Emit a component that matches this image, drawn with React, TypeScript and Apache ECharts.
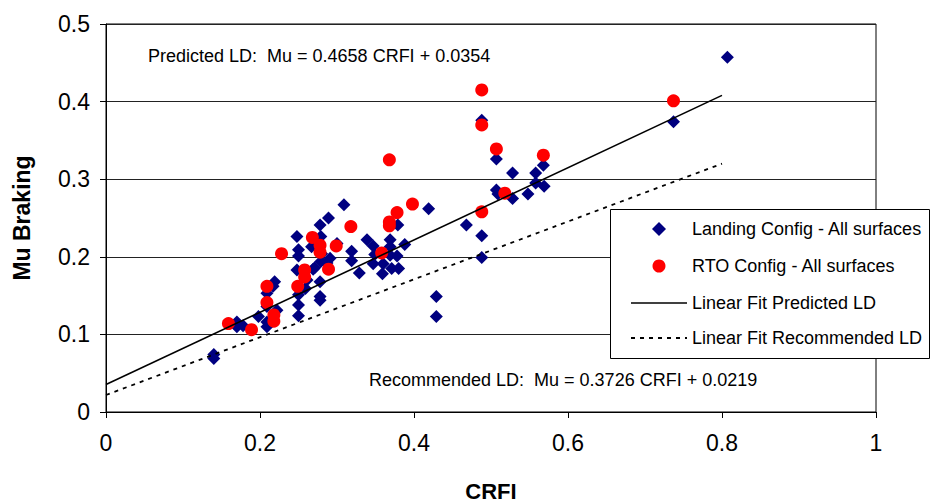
import React, { useEffect, useRef } from "react";
import * as echarts from "echarts";

// Landing Config - All surfaces (blue diamonds)
const landingCRFI = [
  0.14, 0.14, 0.17, 0.17, 0.178, 0.198, 0.209, 0.209,
  0.219, 0.217, 0.209, 0.209, 0.222,
  0.248, 0.25, 0.25, 0.248, 0.25, 0.25, 0.25,
  0.259, 0.261, 0.269,
  0.278, 0.289, 0.279, 0.267, 0.28, 0.279, 0.278, 0.278, 0.278,
  0.291, 0.3, 0.287, 0.271,
  0.309, 0.319, 0.319, 0.329,
  0.339, 0.347, 0.349, 0.347, 0.36, 0.359,
  0.369, 0.369, 0.369, 0.371,
  0.379, 0.378, 0.38, 0.388,
  0.419, 0.429, 0.429,
  0.468, 0.488, 0.488, 0.488,
  0.507, 0.507, 0.509, 0.528, 0.528, 0.548, 0.558, 0.568, 0.558, 0.569,
  0.737, 0.807,
];
const landingMu = [
  0.074, 0.069, 0.116, 0.11, 0.111, 0.123, 0.116, 0.11,
  0.168, 0.162, 0.153, 0.136, 0.131,
  0.226, 0.209, 0.201, 0.183, 0.151, 0.138, 0.124,
  0.159, 0.17, 0.184,
  0.241, 0.25, 0.226, 0.213, 0.204, 0.194, 0.168, 0.149, 0.144,
  0.198, 0.217, 0.192, 0.186,
  0.267, 0.207, 0.195, 0.179,
  0.222, 0.214, 0.203, 0.191, 0.191, 0.178,
  0.222, 0.213, 0.202, 0.185,
  0.241, 0.201, 0.185, 0.216,
  0.262, 0.149, 0.123,
  0.241, 0.227, 0.199, 0.376,
  0.326, 0.286, 0.281, 0.308, 0.275, 0.281, 0.308, 0.318, 0.295, 0.291,
  0.374, 0.457,
];

// RTO Config - All surfaces (red circles)
const rtoCRFI = [
  0.159, 0.189, 0.209, 0.209, 0.218, 0.218,
  0.228, 0.249, 0.258, 0.258,
  0.268, 0.278, 0.278, 0.289, 0.299, 0.318,
  0.358, 0.368, 0.368, 0.368, 0.378, 0.398,
  0.488, 0.488, 0.488, 0.507, 0.518, 0.568, 0.737,
];
const rtoMu = [
  0.114, 0.106, 0.162, 0.141, 0.125, 0.117,
  0.204, 0.162, 0.183, 0.174,
  0.225, 0.215, 0.206, 0.184, 0.214, 0.239,
  0.205, 0.325, 0.245, 0.24, 0.257, 0.268,
  0.415, 0.37, 0.258, 0.339, 0.282, 0.331, 0.401,
];

// Linear fit end points
const fitCRFI = [0, 0.8];
const predictedMu = [0.0354, 0.408];
const recommendedMu = [0.0219, 0.32];

const seriesNames = [
  "Landing Config - All surfaces",
  "RTO Config - All surfaces",
  "Linear Fit Predicted LD",
  "Linear Fit Recommended LD",
];
const xAxisTitle = "CRFI";
const yAxisTitle = "Mu Braking";
const predictedText = "Predicted LD:  Mu = 0.4658 CRFI + 0.0354";
const recommendedText = "Recommended LD:  Mu = 0.3726 CRFI + 0.0219";

const FONT = "'Liberation Sans', Arial, Helvetica, sans-serif";
const BLUE = "#000080";
const RED = "#ff0000";

const zip = (xs: number[], ys: number[]) => xs.map((x, i) => [x, ys[i]]);

function legendGraphic() {
  const boxX = 610;
  const boxY = 209;
  const rowYs = [229, 266, 303, 338];
  const iconL = 631;
  const iconR = 687;
  const iconC = (iconL + iconR) / 2;
  const textX = 692;
  const Z = 100;
  const children: any[] = [
    {
      type: "rect",
      z: Z,
      shape: { x: boxX + 0.5, y: boxY + 0.5, width: 319, height: 149 },
      style: { fill: "#fff", stroke: "#000", lineWidth: 1 },
    },
    {
      type: "polygon",
      z: Z + 1,
      shape: {
        points: [
          [iconC, rowYs[0] - 7],
          [iconC + 7, rowYs[0]],
          [iconC, rowYs[0] + 7],
          [iconC - 7, rowYs[0]],
        ],
      },
      style: { fill: BLUE },
    },
    {
      type: "circle",
      z: Z + 1,
      shape: { cx: iconC, cy: rowYs[1], r: 6.5 },
      style: { fill: RED },
    },
    {
      type: "line",
      z: Z + 1,
      shape: { x1: iconL, y1: rowYs[2], x2: iconR, y2: rowYs[2] },
      style: { stroke: "#000", lineWidth: 1.6 },
    },
    {
      type: "line",
      z: Z + 1,
      shape: { x1: iconL, y1: rowYs[3], x2: iconR, y2: rowYs[3] },
      style: { stroke: "#000", lineWidth: 1.8, lineDash: [4, 5] },
    },
  ];
  seriesNames.forEach((name, i) => {
    children.push({
      type: "text",
      z: Z + 1,
      x: textX,
      y: rowYs[i],
      style: {
        text: name,
        font: `18px ${FONT}`,
        fill: "#000",
        verticalAlign: "middle",
        align: "left",
      },
    });
  });
  return { type: "group", z: Z, children };
}

export default function App() {
  const ref = useRef<HTMLDivElement>(null);
  useEffect(() => {
    if (!ref.current) return;
    const chart = echarts.init(ref.current, undefined, { renderer: "svg" });
    chart.setOption({
      animation: false,
      backgroundColor: "#fff",
      textStyle: { fontFamily: FONT },
      grid: {
        left: 106,
        top: 24,
        right: 55,
        bottom: 92,
        containLabel: false,
        outerBoundsMode: "none",
        show: true,
        borderColor: "#000",
        borderWidth: 1,
      },
      xAxis: {
        type: "value",
        min: 0,
        max: 1,
        interval: 0.2,
        name: xAxisTitle,
        nameLocation: "middle",
        nameGap: 68,
        nameTextStyle: { fontSize: 22, fontWeight: "bold", color: "#000", fontFamily: FONT },
        axisLine: { show: true, lineStyle: { color: "#000", width: 1 } },
        axisTick: { show: true, inside: false, length: 6, lineStyle: { color: "#000" } },
        axisLabel: { fontSize: 23, color: "#000", margin: 19, fontFamily: FONT },
        splitLine: { show: false },
      },
      yAxis: {
        type: "value",
        min: 0,
        max: 0.5,
        interval: 0.1,
        name: yAxisTitle,
        nameLocation: "middle",
        nameGap: 73,
        nameTextStyle: { fontSize: 23, fontWeight: "bold", color: "#000", fontFamily: FONT },
        axisLine: { show: true, lineStyle: { color: "#000", width: 1 } },
        axisTick: { show: true, inside: false, length: 6, lineStyle: { color: "#000" } },
        axisLabel: { fontSize: 23, color: "#000", margin: 16, fontFamily: FONT },
        splitLine: { show: true, lineStyle: { color: "#222", width: 1 } },
      },
      legend: { show: false },
      graphic: [
        {
          type: "text",
          left: 148,
          top: 47,
          z: 50,
          style: { text: predictedText, font: `18px ${FONT}`, fill: "#000" },
        },
        {
          type: "text",
          left: 369,
          top: 371,
          z: 50,
          style: { text: recommendedText, font: `18px ${FONT}`, fill: "#000" },
        },
        legendGraphic(),
      ],
      series: [
        {
          name: seriesNames[0],
          type: "scatter",
          symbol: "diamond",
          symbolSize: 13,
          itemStyle: { color: BLUE, opacity: 1 },
          data: zip(landingCRFI, landingMu),
        },
        {
          name: seriesNames[1],
          type: "scatter",
          symbol: "circle",
          symbolSize: 13,
          itemStyle: { color: RED, opacity: 1 },
          data: zip(rtoCRFI, rtoMu),
        },
        {
          name: seriesNames[2],
          type: "line",
          symbol: "none",
          lineStyle: { color: "#000", width: 1.6, type: "solid" },
          data: zip(fitCRFI, predictedMu),
        },
        {
          name: seriesNames[3],
          type: "line",
          symbol: "none",
          lineStyle: { color: "#000", width: 1.8, type: [4, 5] },
          data: zip(fitCRFI, recommendedMu),
        },
      ],
    });
    return () => chart.dispose();
  }, []);
  return (
    <div
      ref={ref}
      style={{ position: "absolute", left: 0, top: 0, width: 931, height: 504 }}
    />
  );
}
